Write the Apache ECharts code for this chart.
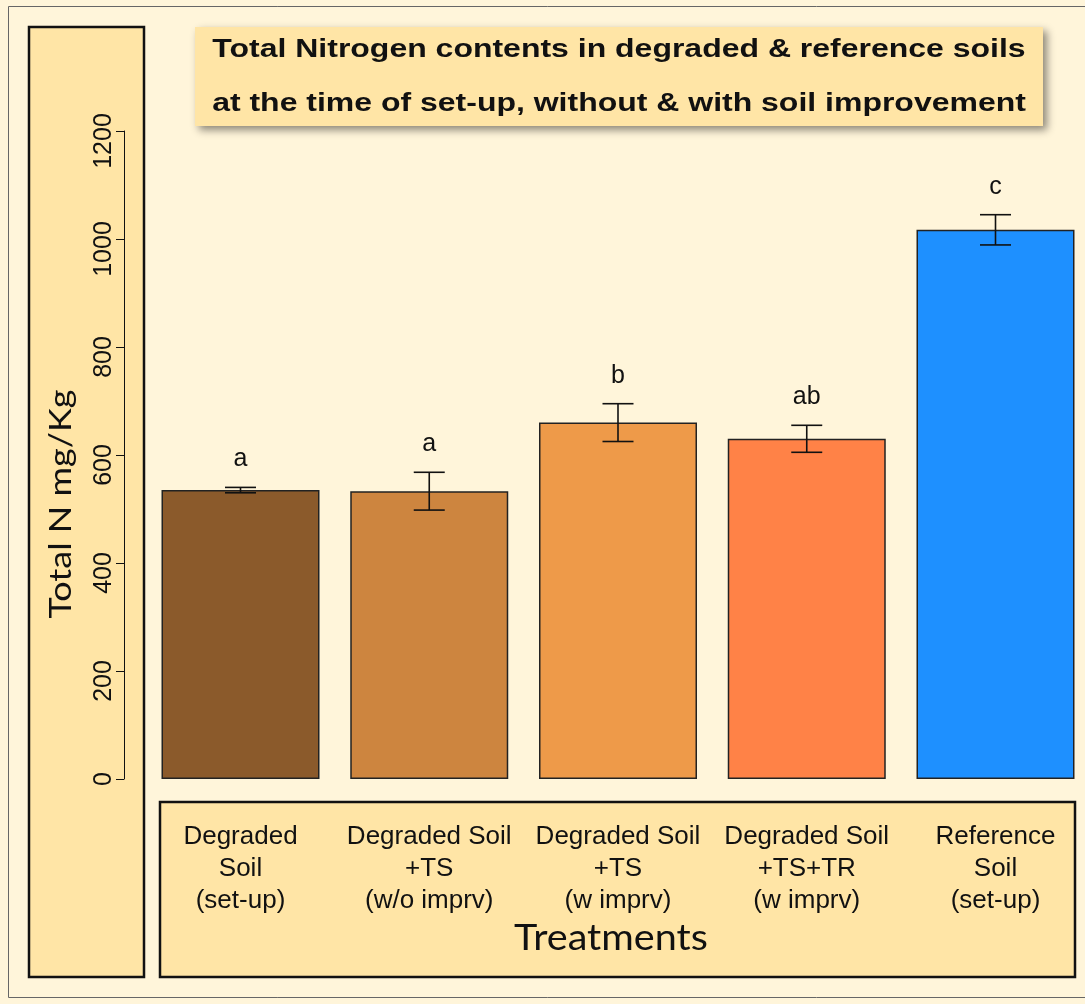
<!DOCTYPE html>
<html>
<head>
<meta charset="utf-8">
<script src="https://cdn.jsdelivr.net/npm/echarts@6/dist/echarts.min.js"></script>
<style>
  html, body { margin: 0; padding: 0; background: #FFF5DA; }
  #chart { width: 1085px; height: 1004px; }
</style>
</head>
<body>
<div id="chart"></div>
<script>
const categories = [
  'Degraded\nSoil\n(set-up)',
  'Degraded Soil\n+TS\n(w/o imprv)',
  'Degraded Soil\n+TS\n(w imprv)',
  'Degraded Soil\n+TS+TR\n(w imprv)',
  'Reference\nSoil\n(set-up)'
];
const values = [535, 533, 660, 630, 1017];
const errors = [5, 35, 35, 25, 28];
const letters = ['a', 'a', 'b', 'ab', 'c'];
const barColors = ['#8B5A2B', '#CD853F', '#EE9A49', '#FF8247', '#1E90FF'];
const yMin = 0, yMax = 1200, yStep = 200;
const titleLines = [
  'Total Nitrogen contents in degraded & reference soils',
  'at the time of set-up, without & with soil improvement'
];
const yName = 'Total N mg/Kg';
const xName = 'Treatments';

const BOX = '#FFE5A6';
const chart = echarts.init(document.getElementById('chart'));

const errData = values.map((v, i) => [i, v, errors[i]]);

chart.setOption({
  backgroundColor: '#FFF5DA',
  animation: false,
  grid: { left: 240.5, top: 131, width: 755, height: 648, containLabel: false },
  xAxis: {
    type: 'category',
    data: categories,
    boundaryGap: false,
    axisLine: { show: false },
    axisTick: { show: false },
    axisLabel: {
      interval: 0,
      margin: 42,
      fontSize: 26,
      lineHeight: 32,
      fontFamily: 'Liberation Sans, Arial, sans-serif',
      color: '#111'
    },
    z: 5
  },
  yAxis: {
    type: 'value',
    min: yMin, max: yMax, interval: yStep,
    offset: 116.5,
    splitLine: { show: false },
    axisLine: { show: true, lineStyle: { color: '#111', width: 1 } },
    axisTick: { show: true, length: 8, lineStyle: { color: '#111', width: 1 } },
    axisLabel: {
      rotate: 90,
      margin: 7,
      fontSize: 25,
      fontFamily: 'Liberation Sans, Arial, sans-serif',
      color: '#111',
      formatter: function (v) { return v === 0 ? '{z|0}' : '{s|' + v + '}'; },
      rich: {
        s: { fontSize: 25, fontFamily: 'Liberation Sans, Arial, sans-serif', color: '#111', padding: [0, 20, 0, 0] },
        z: { fontSize: 25, fontFamily: 'Liberation Sans, Arial, sans-serif', color: '#111' }
      }
    },
    z: 5
  },
  graphic: [
    { type: 'rect', z: -5, shape: { x: 8.5, y: 6.5, width: 1100, height: 991 },
      style: { fill: '#FFF5DA', stroke: '#666', lineWidth: 1 } },
    { type: 'rect', z: -4, shape: { x: 29, y: 27, width: 115, height: 950 },
      style: { fill: BOX, stroke: '#111', lineWidth: 2.5 } },
    { type: 'rect', z: -4, shape: { x: 160, y: 802, width: 915, height: 175 },
      style: { fill: BOX, stroke: '#111', lineWidth: 2.5 } },
    { type: 'rect', z: -4, shape: { x: 195, y: 27, width: 848, height: 99 },
      style: { fill: BOX, shadowBlur: 8, shadowOffsetX: 4, shadowOffsetY: 4, shadowColor: 'rgba(0,0,0,0.45)' } },
    { type: 'text', z: 10, x: 619, y: 50, scaleX: 1.23,
      style: { text: titleLines[0], font: 'bold 26px "Liberation Sans", Arial, sans-serif', fill: '#111', align: 'center', verticalAlign: 'middle' } },
    { type: 'text', z: 10, x: 619, y: 104, scaleX: 1.23,
      style: { text: titleLines[1], font: 'bold 26px "Liberation Sans", Arial, sans-serif', fill: '#111', align: 'center', verticalAlign: 'middle' } },
    { type: 'text', z: 10, x: 61, y: 504, rotation: Math.PI / 2, scaleX: 1.16,
      style: { text: yName, font: '31px Lato, "Open Sans", sans-serif', fill: '#111', align: 'center', verticalAlign: 'middle' } },
    { type: 'text', z: 10, x: 611, y: 938, scaleX: 1.1,
      style: { text: xName, font: '36px Lato, "Open Sans", sans-serif', fill: '#111', align: 'center', verticalAlign: 'middle' } }
  ],
  series: [
    {
      type: 'bar',
      barWidth: 158,
      data: values.map((v, i) => ({ value: v, itemStyle: { color: barColors[i] } })),
      itemStyle: { borderColor: '#222', borderWidth: 1.5 },
      z: 3
    },
    {
      type: 'custom',
      data: errData,
      encode: { x: 0, y: 1 },
      z: 4,
      clip: false,
      renderItem: function (params, api) {
        const x = api.value(0), v = api.value(1), e = api.value(2);
        const hi = api.coord([x, v + e]);
        const lo = api.coord([x, v - e]);
        const half = 15.5;
        const st = { stroke: '#111', lineWidth: 1.6 };
        return {
          type: 'group',
          children: [
            { type: 'line', shape: { x1: hi[0], y1: hi[1], x2: lo[0], y2: lo[1] }, style: st },
            { type: 'line', shape: { x1: hi[0] - half, y1: hi[1], x2: hi[0] + half, y2: hi[1] }, style: st },
            { type: 'line', shape: { x1: lo[0] - half, y1: lo[1], x2: lo[0] + half, y2: lo[1] }, style: st },
            { type: 'text', x: hi[0], y: hi[1] - 28,
              style: { text: letters[params.dataIndex], font: '25px "Liberation Sans", Arial, sans-serif', fill: '#111', align: 'center', verticalAlign: 'middle' } }
          ]
        };
      }
    }
  ]
});
</script>
</body>
</html>
